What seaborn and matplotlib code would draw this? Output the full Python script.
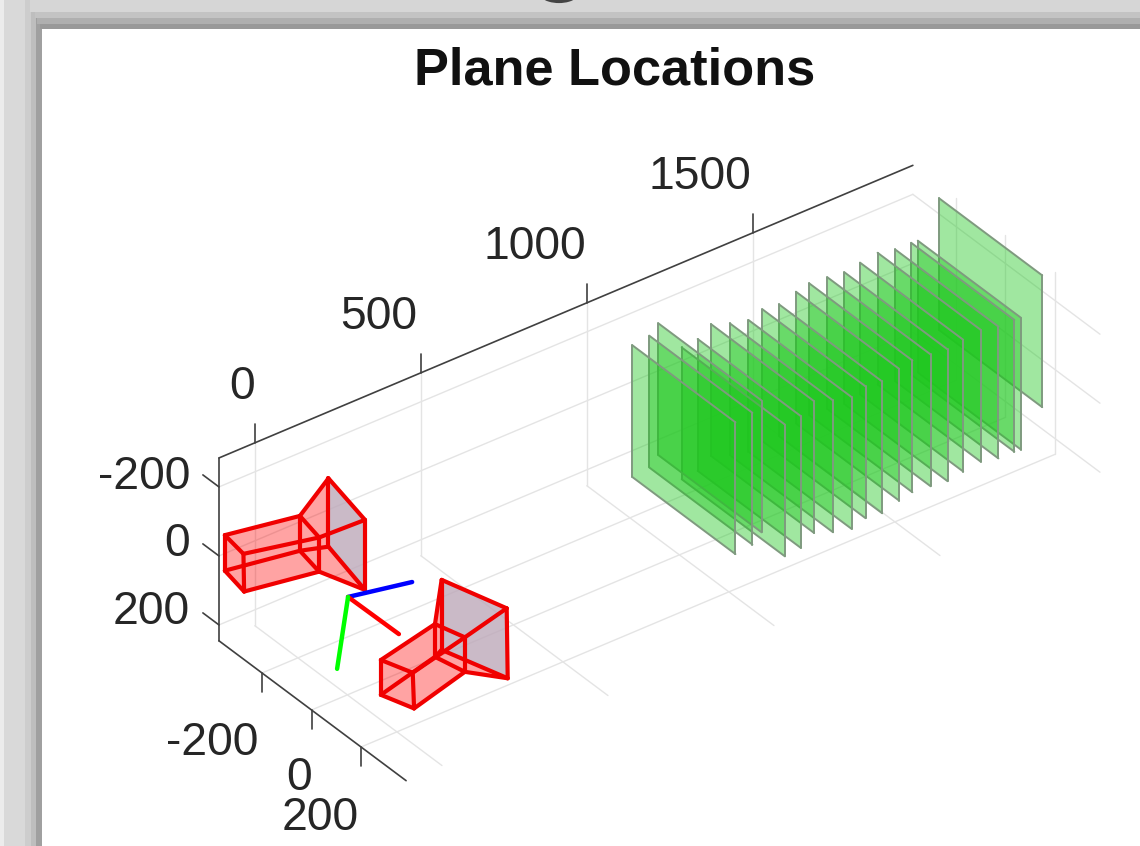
import numpy as np
import pandas as pd
import matplotlib
matplotlib.use("Agg")
import matplotlib.pyplot as plt
from matplotlib.patches import Arc
import seaborn as sns

# axis ranges and ticks
x_range = [-108, 1982]
y_range = [-374, 382]
z_range = [-284, 246]
x_ticks = [0, 500, 1000, 1500]
y_ticks = [-200, 0, 200]
z_ticks = [-200, 0, 200]

# calibration planes: depth and top edge of each one, all the same size
plane_x = [1013, 1064, 1092, 1162, 1210, 1250, 1307, 1363, 1405, 1455,
           1506, 1546, 1601, 1652, 1699, 1752, 1805, 1853, 1873, 1937]
plane_top = [-245, -252, -276, -178, -183, -210, -189, -176, -190, -184,
             -200, -208, -203, -197, -206, -213, -201, -201, -199, -296]
plane_left = -208
plane_width = 417
plane_height = 382

# camera corners: rear end, box front, lens front (top, side, bottom, side)
cam1_y = -200
cam1_x = [-220, -164, -162, -220, 6, 64, 64, 6, 92, 202, 202, 92]
cam1_z = [-199, -122, -12, -96, -163, -77, 22, -62, -237, -72, 131, -39]
cam2_y = 150
cam2_x = [-11, 85, 89, -11, 152, 242, 242, 152, 172, 368, 371, 172]
cam2_z = [60, 136, 241, 161, 22, 97, 197, 117, -98, 64, 268, 105]

# world frame at the pattern origin
origin = [2, 0, -37]
frame_ends = {"#0000ff": [195, 0, -2], "#ff0000": [6, 200, -35], "#00ff00": [-31, 0, 158]}


def project(x, y, z):
    # the view is close to axonometric so one linear map is enough
    return 347.4 + 0.332 * x + 0.2475 * y, 610 + -0.14 * x + 0.185 * y + 0.345 * z


def draw_segments(ax, segments, color, lw, zorder):
    rows = []
    for i, (a, b) in enumerate(segments):
        for p in (a, b):
            px, py = project(*p)
            rows.append({"seg": i, "px": px, "py": py})
    df = pd.DataFrame(rows)
    sns.lineplot(data=df, x="px", y="py", units="seg", estimator=None, sort=False,
                 color=color, linewidth=lw, zorder=zorder, ax=ax, legend=False)


def draw_face(ax, corners, color, alpha, zorder):
    pts = [project(*c) for c in corners]
    ax.fill([p[0] for p in pts], [p[1] for p in pts], color=color, alpha=alpha, lw=0, zorder=zorder)


def draw_camera(ax, xs, y, zs):
    c = [(xs[i], y, zs[i]) for i in range(12)]
    # box and lens walls
    draw_face(ax, c[0:4], "#ff0000", 0.2, 50)
    for a, b in [(0, 4), (4, 8)]:
        for i in range(4):
            j = (i + 1) % 4
            draw_face(ax, [c[a + i], c[a + j], c[b + j], c[b + i]], "#ff0000", 0.2, 50)
    draw_face(ax, c[8:12], "#b9b4c6", 0.75, 50)
    edges = []
    for ring in (0, 4, 8):
        edges += [(c[ring + i], c[ring + (i + 1) % 4]) for i in range(4)]
    edges += [(c[i], c[i + 4]) for i in range(8)]
    draw_segments(ax, edges, "#f00000", 3.0, 51)


sns.set_theme(style="white")
plt.rcParams["font.family"] = ["Liberation Sans", "DejaVu Sans"]

fig = plt.figure(figsize=(11.4, 8.46), dpi=100)
ax = fig.add_axes([0, 0, 1, 1])

# window frame around the plot
for x0, x1, shade in [(0, 4, "#ececec"), (4, 25, "#d9d9d9"), (25, 31, "#cdcdcd"), (31, 36, "#bebebe"), (36, 42, "#a0a0a0")]:
    ax.axvspan(x0, x1, color=shade, lw=0, zorder=0)
for y0, y1, shade in [(0, 12, "#d6d6d6"), (12, 18, "#c3c3c3"), (18, 24, "#afafaf"), (24, 29, "#999999")]:
    ax.axhspan(y0, y1, xmin=(42 - 12 + y0 * 0.4) / 1140, color=shade, lw=0, zorder=0)
ax.add_patch(Arc((559, -10), 40, 22, theta1=20, theta2=160, color="#444444", lw=3, zorder=1))

x0, x1 = x_range
y0, y1 = y_range
z0, z1 = z_range

# grid on the three back walls
grid = []
for t in x_ticks:
    grid.append(((t, y0, z0), (t, y0, z1)))
    grid.append(((t, y0, z1), (t, y1, z1)))
for t in y_ticks:
    grid.append(((x0, t, z1), (x1, t, z1)))
    grid.append(((x1, t, z1), (x1, t, z0)))
for t in z_ticks:
    grid.append(((x0, y0, t), (x1, y0, t)))
    grid.append(((x1, y0, t), (x1, y1, t)))
draw_segments(ax, grid, "#e4e4e4", 1.0, 1)

# planes, far ones first so their edges sink under the nearer faces
for order, (px_, ztop) in enumerate(sorted(zip(plane_x, plane_top))):
    yr = plane_left + plane_width
    zb = ztop + plane_height
    corners = [(px_, plane_left, ztop), (px_, yr, ztop), (px_, yr, zb), (px_, plane_left, zb)]
    depth = 2 + (len(plane_x) - order) * 2
    draw_face(ax, corners, "#1ec81e", 0.42, depth)
    draw_segments(ax, [(corners[i], corners[(i + 1) % 4]) for i in range(4)], "#7f9a7f", 1.4, depth + 1)

draw_camera(ax, cam1_x, cam1_y, cam1_z)
draw_camera(ax, cam2_x, cam2_y, cam2_z)

for color, end in frame_ends.items():
    draw_segments(ax, [(origin, end)], color, 3.2, 52)

# axis rulers and ticks
rulers = [((x0, y0, z0), (x1, y0, z0)), ((x0, y0, z0), (x0, y0, z1)), ((x0, y0, z1), (x0, y1, z1))]
rulers += [((t, y0, z0), (t, y0, z0 - 55)) for t in x_ticks]
rulers += [((x0, t, z1), (x0, t, z1 + 55)) for t in y_ticks]
rulers += [((x0, y0, t), (x0, y0 - 65, t)) for t in z_ticks]
draw_segments(ax, rulers, "#404040", 1.2, 53)

label_color = "#262626"
label_size = 33.3
for t, lx, ly in zip(x_ticks, [242, 379, 535, 700], [387, 317, 247, 177]):
    ax.text(lx, ly, str(t), ha="center", va="center", fontsize=label_size, color=label_color)
for t, ly in zip(z_ticks, [477, 544, 612]):
    ax.text(190, ly, str(t), ha="right", va="center", fontsize=label_size, color=label_color)
for t, lx, ly in zip(y_ticks, [212, 299, 320], [743, 778, 818]):
    ax.text(lx, ly, str(t), ha="center", va="center", fontsize=label_size, color=label_color)

ax.text(615, 71, "Plane Locations", ha="center", va="center", fontsize=37.7, fontweight="bold", color="#111111")

ax.set_xlim(0, 1140)
ax.set_ylim(846, 0)
ax.set_xlabel("")
ax.set_ylabel("")
ax.axis("off")

fig.savefig("out.png", dpi=100, facecolor="white")
